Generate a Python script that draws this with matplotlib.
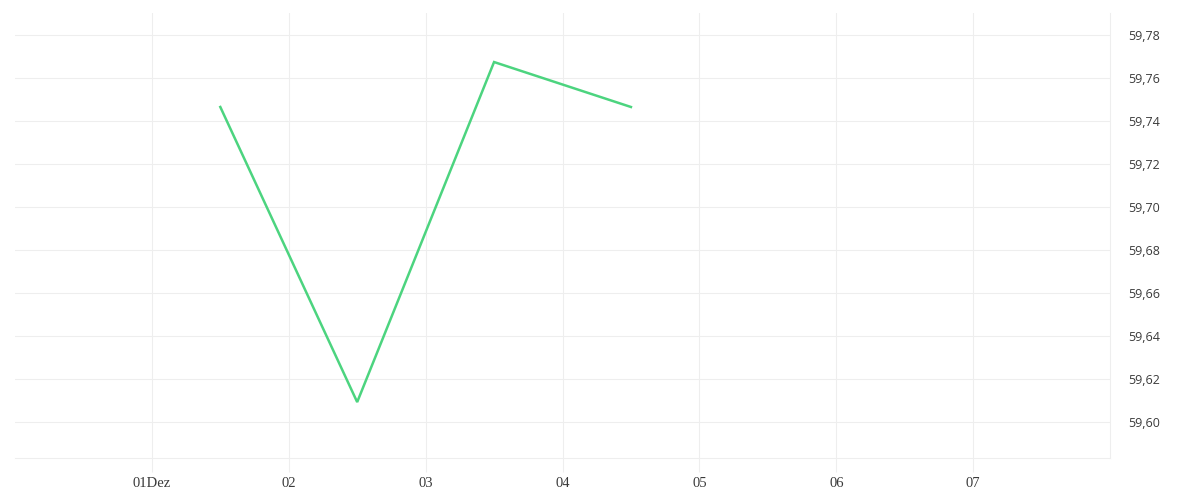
import datetime as dt
import matplotlib
matplotlib.use("Agg")
import matplotlib.pyplot as plt
import matplotlib.dates as mdates
from matplotlib.ticker import FuncFormatter, MultipleLocator

# data
times = [dt.datetime(2023, 12, 1, 12), dt.datetime(2023, 12, 2, 12),
         dt.datetime(2023, 12, 3, 12), dt.datetime(2023, 12, 4, 12)]
values = [59.7465, 59.6093, 59.7674, 59.7465]
tick_days = [dt.datetime(2023, 12, d) for d in range(1, 8)]
tick_labels = ["01Dez", "02", "03", "04", "05", "06", "07"]

grid_col = "#eeeeee"
text_col = "#3a3a3a"

fig = plt.figure(figsize=(12, 5), dpi=100)
ax = fig.add_axes([0.0125, 0.084, 0.9125, 0.89])

ax.plot(times, values, color="#4cd47f", linewidth=1.8, solid_joinstyle="miter")

ax.set_xlim(dt.datetime(2023, 11, 30), dt.datetime(2023, 12, 8))
ax.set_ylim(59.5833, 59.7902)

ax.set_xticks(tick_days)
ax.set_xticklabels(tick_labels, family="Liberation Serif", fontsize=10.5, color=text_col)
ax.yaxis.set_major_locator(MultipleLocator(0.02))
ax.yaxis.set_major_formatter(FuncFormatter(lambda v, p: f"{v:.2f}".replace(".", ",")))
ax.yaxis.tick_right()
for lab in ax.get_yticklabels():
    lab.set_family("Open Sans")
    lab.set_fontsize(9)
    lab.set_color(text_col)

ax.tick_params(axis="x", length=10, color=grid_col, width=0.8, pad=4)
ax.tick_params(axis="y", length=0, pad=13)
ax.grid(True, color=grid_col, linewidth=0.8)
ax.set_axisbelow(True)

for s in ["top", "left"]:
    ax.spines[s].set_visible(False)
for s in ["bottom", "right"]:
    ax.spines[s].set_color(grid_col)
    ax.spines[s].set_linewidth(0.8)

fig.savefig("out.png", dpi=100)
